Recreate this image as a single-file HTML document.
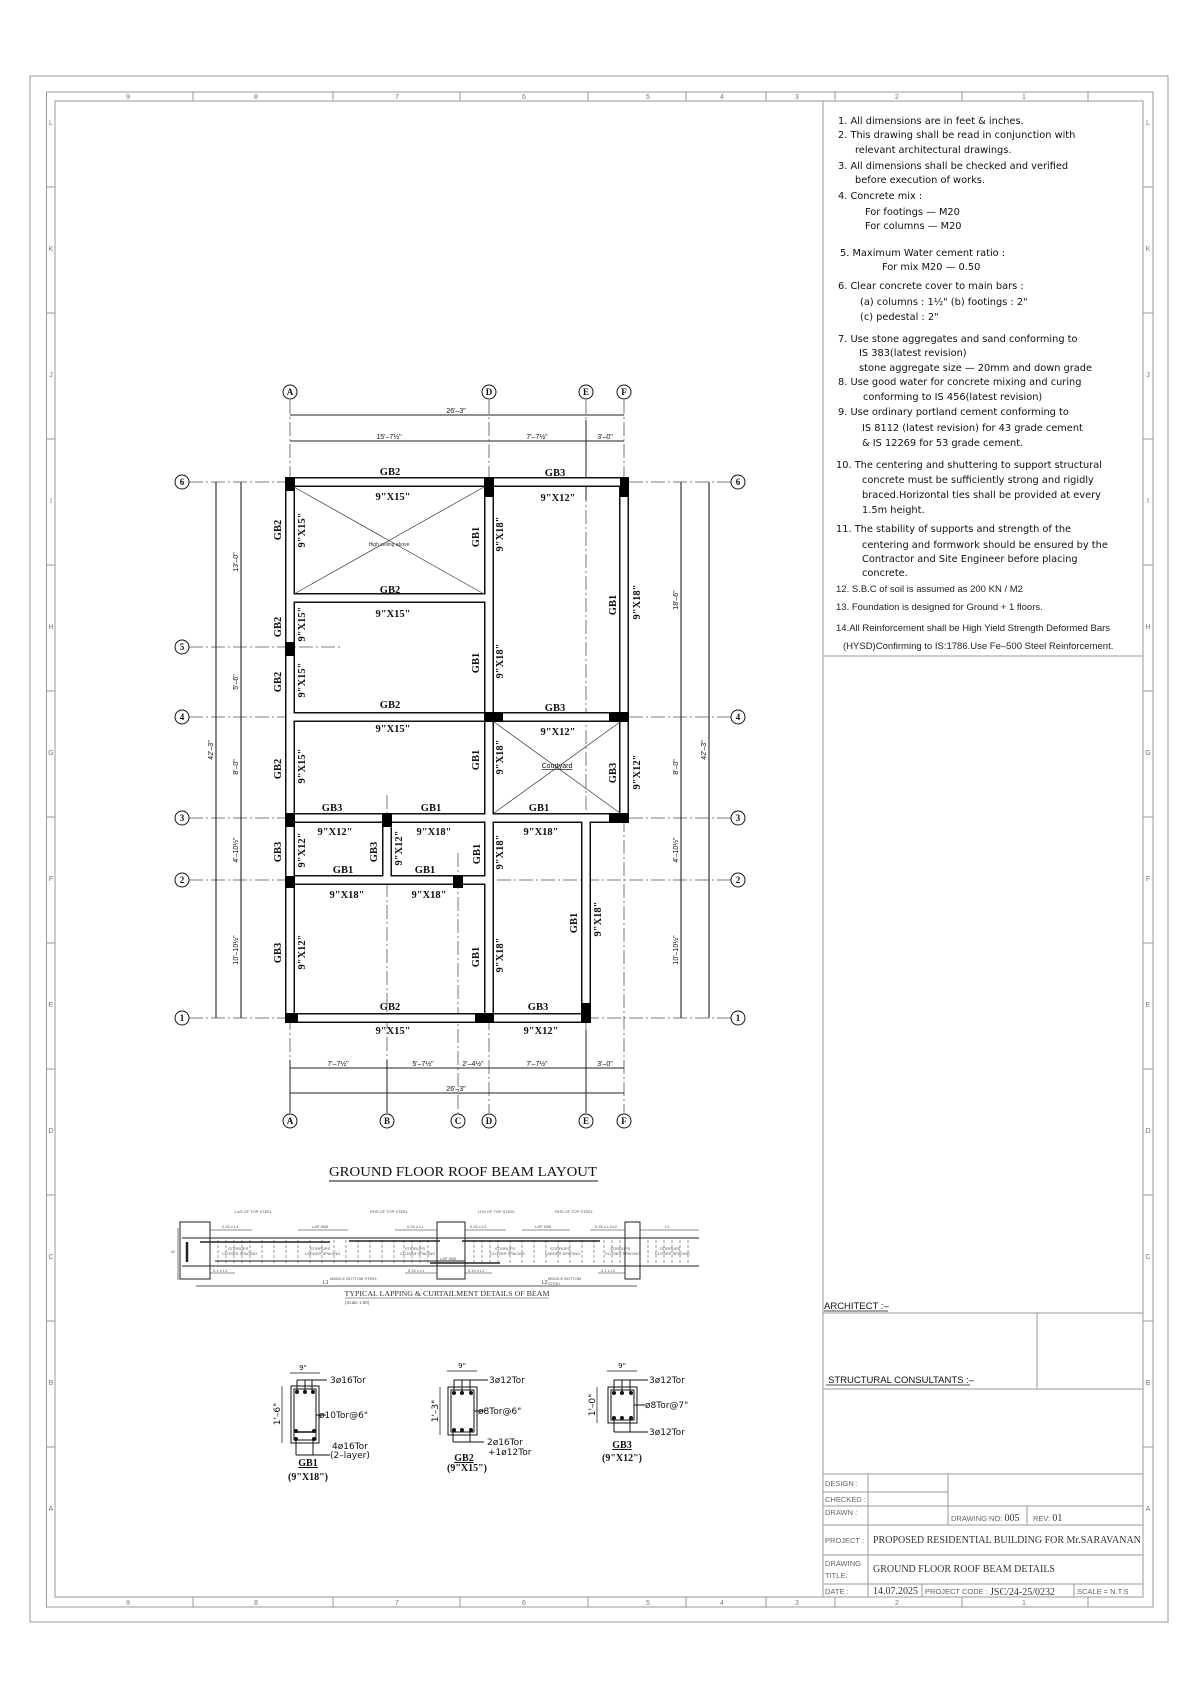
<!DOCTYPE html>
<html><head><meta charset="utf-8"><style>
html,body{margin:0;padding:0;background:#fff;}
svg{display:block;}
.g{stroke:#555;stroke-width:0.8;stroke-dasharray:14,3,2,3;fill:none}
.d{stroke:#222;stroke-width:1.1;fill:none}
.lb{font-family:"Liberation Serif",serif;font-weight:bold;font-size:10.5px;fill:#111;text-anchor:middle}
.dm{font-family:"Liberation Sans",sans-serif;font-size:7px;fill:#111;text-anchor:middle}
.nt{font-family:"DejaVu Sans",sans-serif;font-size:9.8px;fill:#111}
.nt2{font-family:"Liberation Sans",sans-serif;font-size:9.5px;fill:#222}
.bb{font-family:"Liberation Serif",serif;font-weight:bold;font-size:9px;fill:#111;text-anchor:middle}
.fr{stroke:#999;stroke-width:1;fill:none}
.zn{font-family:"Liberation Sans",sans-serif;font-size:7px;fill:#777;text-anchor:middle}
.tb{font-family:"Liberation Sans",sans-serif;font-size:7.5px;fill:#666}
.tt{font-family:"Liberation Serif",serif;font-size:10px;fill:#333}
.sc{font-family:"DejaVu Sans",sans-serif;font-size:9px;fill:#111}
.tiny{font-family:"Liberation Sans",sans-serif;font-size:4px;fill:#555}
</style></head><body>
<svg width="1200" height="1697" viewBox="0 0 1200 1697" xmlns="http://www.w3.org/2000/svg">
<rect width="1200" height="1697" fill="#fff"/>
<rect x="30" y="76" width="1138" height="1546" class="fr"/>
<rect x="46.5" y="92" width="1106.5" height="1515" class="fr"/>
<rect x="55" y="101" width="1088" height="1496" class="fr" stroke="#888"/>
<g class="fr">
<line x1="193" y1="92" x2="193" y2="101"/><line x1="333" y1="92" x2="333" y2="101"/><line x1="460" y1="92" x2="460" y2="101"/><line x1="588" y1="92" x2="588" y2="101"/><line x1="686" y1="92" x2="686" y2="101"/><line x1="766" y1="92" x2="766" y2="101"/><line x1="835" y1="92" x2="835" y2="101"/><line x1="962" y1="92" x2="962" y2="101"/><line x1="1088" y1="92" x2="1088" y2="101"/>
<line x1="193" y1="1597" x2="193" y2="1607"/><line x1="333" y1="1597" x2="333" y2="1607"/><line x1="460" y1="1597" x2="460" y2="1607"/><line x1="588" y1="1597" x2="588" y2="1607"/><line x1="686" y1="1597" x2="686" y2="1607"/><line x1="766" y1="1597" x2="766" y2="1607"/><line x1="835" y1="1597" x2="835" y2="1607"/><line x1="962" y1="1597" x2="962" y2="1607"/><line x1="1088" y1="1597" x2="1088" y2="1607"/>
<line x1="46" y1="187" x2="55" y2="187"/><line x1="46" y1="313" x2="55" y2="313"/><line x1="46" y1="439" x2="55" y2="439"/><line x1="46" y1="565" x2="55" y2="565"/><line x1="46" y1="691" x2="55" y2="691"/><line x1="46" y1="817" x2="55" y2="817"/><line x1="46" y1="943" x2="55" y2="943"/><line x1="46" y1="1069" x2="55" y2="1069"/><line x1="46" y1="1195" x2="55" y2="1195"/><line x1="46" y1="1321" x2="55" y2="1321"/><line x1="46" y1="1447" x2="55" y2="1447"/>
<line x1="1143" y1="187" x2="1153" y2="187"/><line x1="1143" y1="313" x2="1153" y2="313"/><line x1="1143" y1="439" x2="1153" y2="439"/><line x1="1143" y1="565" x2="1153" y2="565"/><line x1="1143" y1="691" x2="1153" y2="691"/><line x1="1143" y1="817" x2="1153" y2="817"/><line x1="1143" y1="943" x2="1153" y2="943"/><line x1="1143" y1="1069" x2="1153" y2="1069"/><line x1="1143" y1="1195" x2="1153" y2="1195"/><line x1="1143" y1="1321" x2="1153" y2="1321"/><line x1="1143" y1="1447" x2="1153" y2="1447"/>
</g>
<g class="zn">
<text x="128" y="99">9</text><text x="256" y="99">8</text><text x="397" y="99">7</text><text x="524" y="99">6</text><text x="648" y="99">5</text><text x="722" y="99">4</text><text x="797" y="99">3</text><text x="897" y="99">2</text><text x="1024" y="99">1</text>
<text x="128" y="1605">9</text><text x="256" y="1605">8</text><text x="397" y="1605">7</text><text x="524" y="1605">6</text><text x="648" y="1605">5</text><text x="722" y="1605">4</text><text x="797" y="1605">3</text><text x="897" y="1605">2</text><text x="1024" y="1605">1</text>
<text x="51" y="125">L</text><text x="51" y="251">K</text><text x="51" y="377">J</text><text x="51" y="503">I</text><text x="51" y="629">H</text><text x="51" y="755">G</text><text x="51" y="881">F</text><text x="51" y="1007">E</text><text x="51" y="1133">D</text><text x="51" y="1259">C</text><text x="51" y="1385">B</text><text x="51" y="1511">A</text>
<text x="1148" y="125">L</text><text x="1148" y="251">K</text><text x="1148" y="377">J</text><text x="1148" y="503">I</text><text x="1148" y="629">H</text><text x="1148" y="755">G</text><text x="1148" y="881">F</text><text x="1148" y="1007">E</text><text x="1148" y="1133">D</text><text x="1148" y="1259">C</text><text x="1148" y="1385">B</text><text x="1148" y="1511">A</text>
</g>

<g stroke="#999" stroke-width="1" fill="none">
<line x1="823" y1="101" x2="823" y2="1597"/>
<line x1="823" y1="656" x2="1143" y2="656"/>
<line x1="823" y1="1313" x2="1143" y2="1313"/>
<line x1="1037" y1="1313" x2="1037" y2="1389"/>
<line x1="823" y1="1389" x2="1143" y2="1389"/>
<line x1="823" y1="1474" x2="1143" y2="1474"/>
<line x1="823" y1="1492" x2="948" y2="1492"/>
<line x1="823" y1="1506" x2="1143" y2="1506"/>
<line x1="823" y1="1525" x2="1143" y2="1525"/>
<line x1="823" y1="1555" x2="1143" y2="1555"/>
<line x1="823" y1="1584" x2="1143" y2="1584"/>
<line x1="868" y1="1474" x2="868" y2="1597"/>
<line x1="948" y1="1474" x2="948" y2="1525"/>
<line x1="1027" y1="1506" x2="1027" y2="1525"/>
<line x1="922" y1="1584" x2="922" y2="1597"/>
<line x1="1074" y1="1584" x2="1074" y2="1597"/>
</g>
<text x="824" y="1309" font-family="Liberation Sans,sans-serif" font-size="9.5" fill="#111">ARCHITECT :–</text>
<line x1="824" y1="1311" x2="888" y2="1311" stroke="#111" stroke-width="0.8"/>
<text x="828" y="1383" font-family="Liberation Sans,sans-serif" font-size="9.5" fill="#111">STRUCTURAL  CONSULTANTS :–</text>
<line x1="826" y1="1385" x2="970" y2="1385" stroke="#111" stroke-width="0.8"/>
<text x="825" y="1486" class="tb">DESIGN :</text>
<text x="825" y="1502" class="tb">CHECKED :</text>
<text x="825" y="1515" class="tb">DRAWN :</text>
<text x="951" y="1521" class="tb">DRAWING NO: <tspan class="tt" font-size="9">005</tspan></text>
<text x="1033" y="1521" class="tb">REV:  <tspan class="tt" font-size="9">01</tspan></text>
<text x="825" y="1543" class="tb">PROJECT :</text>
<text x="873" y="1543" class="tt" font-size="9.2">PROPOSED RESIDENTIAL BUILDING FOR Mr.SARAVANAN</text>
<text x="825" y="1566" class="tb">DRAWING</text>
<text x="825" y="1578" class="tb">TITLE:</text>
<text x="873" y="1572" class="tt">GROUND FLOOR ROOF BEAM DETAILS</text>
<text x="825" y="1594" class="tb">DATE :</text>
<text x="873" y="1594" class="tt" font-size="8.5">14.07.2025</text>
<text x="925" y="1594" class="tb" font-size="7">PROJECT CODE :</text>
<text x="990" y="1595" class="tt" font-size="8">JSC/24-25/0232</text>
<text x="1077" y="1594" class="tb">SCALE = N.T.S</text>

<g class="nt">
<text x="838" y="124">1. All dimensions are in feet &amp; inches.</text>
<text x="838" y="138">2. This drawing shall be read in conjunction with</text>
<text x="855" y="153">relevant architectural drawings.</text>
<text x="838" y="169">3. All dimensions shall be  checked and verified</text>
<text x="855" y="183">before execution of works.</text>
<text x="838" y="199">4. Concrete mix :</text>
<text x="865" y="215">For footings — M20</text>
<text x="865" y="229">For columns — M20</text>
<text x="840" y="256">5. Maximum Water cement ratio :</text>
<text x="882" y="270">For mix M20   —    0.50</text>
<text x="838" y="289">6. Clear concrete cover to main bars :</text>
<text x="860" y="305">(a) columns : 1½" (b) footings : 2"</text>
<text x="860" y="320">(c) pedestal :  2"</text>
<text x="838" y="342">7. Use stone aggregates and sand conforming to</text>
<text x="859" y="356">IS 383(latest revision)</text>
<text x="859" y="371">stone aggregate size — 20mm and down grade</text>
<text x="838" y="385">8. Use good water for concrete mixing and curing</text>
<text x="863" y="400">conforming to IS 456(latest revision)</text>
<text x="838" y="415">9. Use ordinary portland cement conforming to</text>
<text x="862" y="431">IS 8112 (latest revision) for 43 grade cement</text>
<text x="862" y="446">&amp; IS 12269 for 53 grade cement.</text>
<text x="836" y="468">10. The centering and shuttering to support structural</text>
<text x="862" y="483">concrete must be sufficiently strong and rigidly</text>
<text x="862" y="498">braced.Horizontal ties shall be provided at every</text>
<text x="862" y="513">1.5m height.</text>
<text x="836" y="532">11. The stability of supports and strength of the</text>
<text x="862" y="548">centering and formwork should be ensured by the</text>
<text x="862" y="562">Contractor and Site  Engineer before placing</text>
<text x="862" y="576">concrete.</text>
</g>
<g class="nt2">
<text x="836" y="592">12. S.B.C of soil is assumed as 200 KN / M2</text>
<text x="836" y="610">13. Foundation is designed for Ground + 1 floors.</text>
<text x="836" y="631">14.All Reinforcement shall be High Yield Strength Deformed Bars</text>
<text x="843" y="649">(HYSD)Confirming to IS:1786.Use Fe–500 Steel Reinforcement.</text>
</g>

<g class="g">
<line x1="189" y1="482" x2="731" y2="482"/>
<line x1="189" y1="647" x2="340" y2="647"/>
<line x1="189" y1="717" x2="731" y2="717"/>
<line x1="189" y1="818" x2="731" y2="818"/>
<line x1="189" y1="880" x2="731" y2="880"/>
<line x1="189" y1="1018" x2="731" y2="1018"/>
<line x1="290" y1="400" x2="290" y2="1113"/>
<line x1="489" y1="400" x2="489" y2="1113"/>
<line x1="586" y1="400" x2="586" y2="1113"/>
<line x1="624" y1="400" x2="624" y2="1113"/>
<line x1="387" y1="795" x2="387" y2="1113"/>
<line x1="458" y1="853" x2="458" y2="1113"/>
</g>
<g stroke="#222" stroke-width="1">
<line x1="586" y1="420" x2="586" y2="500"/>
<line x1="586" y1="1030" x2="586" y2="1113"/>
<line x1="387" y1="1060" x2="387" y2="1113"/>
<line x1="290" y1="1060" x2="290" y2="1113"/>
</g>
<g class="d">
<line x1="290" y1="415" x2="624" y2="415"/>
<line x1="290" y1="441" x2="624" y2="441"/>
<line x1="290" y1="1068" x2="624" y2="1068"/>
<line x1="290" y1="1093" x2="624" y2="1093"/>
<line x1="216" y1="482" x2="216" y2="1018"/>
<line x1="241" y1="482" x2="241" y2="1018"/>
<line x1="681" y1="482" x2="681" y2="1018"/>
<line x1="709" y1="482" x2="709" y2="1018"/>
</g>
<g class="dm">
<text x="456" y="413">26'–3"</text>
<text x="389" y="439">15'–7½"</text>
<text x="537" y="439">7'–7½"</text>
<text x="605" y="439">3'–0"</text>
<text x="338" y="1066">7'–7½"</text>
<text x="423" y="1066">5'–7½"</text>
<text x="473" y="1066">2'–4½"</text>
<text x="537" y="1066">7'–7½"</text>
<text x="605" y="1066">3'–0"</text>
<text x="456" y="1091">26'–3"</text>
<text transform="translate(238,562) rotate(-90)">13'–0"</text>
<text transform="translate(238,682) rotate(-90)">5'–6"</text>
<text transform="translate(238,767) rotate(-90)">8'–0"</text>
<text transform="translate(238,850) rotate(-90)">4'–10½"</text>
<text transform="translate(238,950) rotate(-90)">10'–10½"</text>
<text transform="translate(213,750) rotate(-90)">42'–3"</text>
<text transform="translate(678,600) rotate(-90)">18'–6"</text>
<text transform="translate(678,767) rotate(-90)">8'–0"</text>
<text transform="translate(678,850) rotate(-90)">4'–10½"</text>
<text transform="translate(678,950) rotate(-90)">10'–10½"</text>
<text transform="translate(706,750) rotate(-90)">42'–3"</text>
</g>

<g stroke="#111" stroke-width="10" stroke-linecap="square" fill="none">
<line x1="290" y1="482" x2="624" y2="482"/>
<line x1="290" y1="598" x2="489" y2="598"/>
<line x1="290" y1="717" x2="624" y2="717"/>
<line x1="290" y1="818" x2="624" y2="818"/>
<line x1="290" y1="880" x2="489" y2="880"/>
<line x1="290" y1="1018" x2="586" y2="1018"/>
<line x1="290" y1="482" x2="290" y2="1018"/>
<line x1="387" y1="818" x2="387" y2="880"/>
<line x1="489" y1="482" x2="489" y2="1018"/>
<line x1="586" y1="818" x2="586" y2="1018"/>
<line x1="624" y1="482" x2="624" y2="818"/>
</g>
<g stroke="#fff" stroke-width="7" stroke-linecap="square" fill="none">
<line x1="290" y1="482" x2="624" y2="482"/>
<line x1="290" y1="598" x2="489" y2="598"/>
<line x1="290" y1="717" x2="624" y2="717"/>
<line x1="290" y1="818" x2="624" y2="818"/>
<line x1="290" y1="880" x2="489" y2="880"/>
<line x1="290" y1="1018" x2="586" y2="1018"/>
<line x1="290" y1="482" x2="290" y2="1018"/>
<line x1="387" y1="818" x2="387" y2="880"/>
<line x1="489" y1="482" x2="489" y2="1018"/>
<line x1="586" y1="818" x2="586" y2="1018"/>
<line x1="624" y1="482" x2="624" y2="818"/>
</g>
<g fill="#000">
<rect x="285" y="478" width="10" height="13"/>
<rect x="484" y="478" width="10" height="19"/>
<rect x="620" y="478" width="9" height="19"/>
<rect x="285" y="642" width="10" height="14"/>
<rect x="484" y="712" width="19" height="10"/>
<rect x="609" y="712" width="20" height="10"/>
<rect x="285" y="813" width="10" height="14"/>
<rect x="382" y="813" width="10" height="14"/>
<rect x="609" y="813" width="20" height="10"/>
<rect x="285" y="876" width="10" height="12"/>
<rect x="453" y="876" width="10" height="12"/>
<rect x="285" y="1013" width="13" height="10"/>
<rect x="475" y="1013" width="19" height="10"/>
<rect x="581" y="1003" width="10" height="20"/>
</g>
<g stroke="#333" stroke-width="0.7">
<line x1="294" y1="487" x2="484" y2="594"/>
<line x1="484" y1="487" x2="294" y2="594"/>
<line x1="494" y1="722" x2="620" y2="813"/>
<line x1="620" y1="722" x2="494" y2="813"/>
</g>
<text x="389" y="546" font-family="Liberation Sans,sans-serif" font-size="5" fill="#333" text-anchor="middle">High ceiling above</text>
<text x="557" y="768" font-family="Liberation Sans,sans-serif" font-size="7" fill="#111" text-anchor="middle" text-decoration="underline">Courtyard</text>

<g class="lb">
<text x="390" y="475">GB2</text><text x="393" y="500">9"X15"</text>
<text x="555" y="476">GB3</text><text x="558" y="501">9"X12"</text>
<text transform="translate(281,530) rotate(-90)">GB2</text><text transform="translate(305,530) rotate(-90)">9"X15"</text>
<text transform="translate(479,537) rotate(-90)">GB1</text><text transform="translate(503,534) rotate(-90)">9"X18"</text>
<text x="390" y="593">GB2</text><text x="393" y="617">9"X15"</text>
<text transform="translate(281,627) rotate(-90)">GB2</text><text transform="translate(305,624) rotate(-90)">9"X15"</text>
<text transform="translate(616,605) rotate(-90)">GB1</text><text transform="translate(640,602) rotate(-90)">9"X18"</text>
<text transform="translate(479,663) rotate(-90)">GB1</text><text transform="translate(503,661) rotate(-90)">9"X18"</text>
<text transform="translate(281,682) rotate(-90)">GB2</text><text transform="translate(305,680) rotate(-90)">9"X15"</text>
<text x="390" y="708">GB2</text><text x="555" y="711">GB3</text>
<text x="393" y="732">9"X15"</text><text x="558" y="735">9"X12"</text>
<text transform="translate(281,769) rotate(-90)">GB2</text><text transform="translate(305,766) rotate(-90)">9"X15"</text>
<text transform="translate(479,760) rotate(-90)">GB1</text><text transform="translate(503,757) rotate(-90)">9"X18"</text>
<text transform="translate(616,773) rotate(-90)">GB3</text><text transform="translate(640,772) rotate(-90)">9"X12"</text>
<text x="332" y="811">GB3</text><text x="431" y="811">GB1</text><text x="539" y="811">GB1</text>
<text x="335" y="835">9"X12"</text><text x="434" y="835">9"X18"</text><text x="541" y="835">9"X18"</text>
<text transform="translate(281,852) rotate(-90)">GB3</text><text transform="translate(305,850) rotate(-90)">9"X12"</text>
<text transform="translate(377,852) rotate(-90)">GB3</text><text transform="translate(402,848) rotate(-90)">9"X12"</text>
<text transform="translate(480,854) rotate(-90)">GB1</text><text transform="translate(503,852) rotate(-90)">9"X18"</text>
<text x="343" y="873">GB1</text><text x="425" y="873">GB1</text>
<text x="347" y="898">9"X18"</text><text x="429" y="898">9"X18"</text>
<text transform="translate(577,923) rotate(-90)">GB1</text><text transform="translate(601,919) rotate(-90)">9"X18"</text>
<text transform="translate(281,953) rotate(-90)">GB3</text><text transform="translate(305,952) rotate(-90)">9"X12"</text>
<text transform="translate(479,957) rotate(-90)">GB1</text><text transform="translate(503,955) rotate(-90)">9"X18"</text>
<text x="390" y="1010">GB2</text><text x="538" y="1010">GB3</text>
<text x="393" y="1034">9"X15"</text><text x="541" y="1034">9"X12"</text>
</g>

<g fill="#fff" stroke="#111" stroke-width="1">
<circle cx="290" cy="392" r="7"/><circle cx="489" cy="392" r="7"/><circle cx="586" cy="392" r="7"/><circle cx="624" cy="392" r="7"/>
<circle cx="290" cy="1121" r="7"/><circle cx="387" cy="1121" r="7"/><circle cx="458" cy="1121" r="7"/><circle cx="489" cy="1121" r="7"/><circle cx="586" cy="1121" r="7"/><circle cx="624" cy="1121" r="7"/>
<circle cx="182" cy="482" r="7"/><circle cx="182" cy="647" r="7"/><circle cx="182" cy="717" r="7"/><circle cx="182" cy="818" r="7"/><circle cx="182" cy="880" r="7"/><circle cx="182" cy="1018" r="7"/>
<circle cx="738" cy="482" r="7"/><circle cx="738" cy="717" r="7"/><circle cx="738" cy="818" r="7"/><circle cx="738" cy="880" r="7"/><circle cx="738" cy="1018" r="7"/>
</g>
<g class="bb">
<text x="290" y="395">A</text><text x="489" y="395">D</text><text x="586" y="395">E</text><text x="624" y="395">F</text>
<text x="290" y="1124">A</text><text x="387" y="1124">B</text><text x="458" y="1124">C</text><text x="489" y="1124">D</text><text x="586" y="1124">E</text><text x="624" y="1124">F</text>
<text x="182" y="485">6</text><text x="182" y="650">5</text><text x="182" y="720">4</text><text x="182" y="821">3</text><text x="182" y="883">2</text><text x="182" y="1021">1</text>
<text x="738" y="485">6</text><text x="738" y="720">4</text><text x="738" y="821">3</text><text x="738" y="883">2</text><text x="738" y="1021">1</text>
</g>

<text x="463" y="1176" font-family="Liberation Serif,serif" font-size="14" fill="#111" text-anchor="middle" textLength="268" lengthAdjust="spacingAndGlyphs">GROUND FLOOR ROOF BEAM LAYOUT</text>
<line x1="329" y1="1181" x2="598" y2="1181" stroke="#111" stroke-width="1"/>

<g stroke="#333" stroke-width="0.5" stroke-dasharray="3,2">
<line x1="218" y1="1240" x2="218" y2="1264"/><line x1="226" y1="1240" x2="226" y2="1264"/><line x1="234" y1="1240" x2="234" y2="1264"/><line x1="242" y1="1240" x2="242" y2="1264"/><line x1="250" y1="1240" x2="250" y2="1264"/><line x1="262" y1="1240" x2="262" y2="1264"/><line x1="274" y1="1240" x2="274" y2="1264"/><line x1="286" y1="1240" x2="286" y2="1264"/><line x1="298" y1="1240" x2="298" y2="1264"/><line x1="310" y1="1240" x2="310" y2="1264"/><line x1="322" y1="1240" x2="322" y2="1264"/><line x1="334" y1="1240" x2="334" y2="1264"/><line x1="346" y1="1240" x2="346" y2="1264"/><line x1="358" y1="1240" x2="358" y2="1264"/><line x1="370" y1="1240" x2="370" y2="1264"/><line x1="382" y1="1240" x2="382" y2="1264"/><line x1="394" y1="1240" x2="394" y2="1264"/><line x1="404" y1="1240" x2="404" y2="1264"/><line x1="412" y1="1240" x2="412" y2="1264"/><line x1="420" y1="1240" x2="420" y2="1264"/><line x1="428" y1="1240" x2="428" y2="1264"/>
<line x1="474" y1="1240" x2="474" y2="1264"/><line x1="482" y1="1240" x2="482" y2="1264"/><line x1="490" y1="1240" x2="490" y2="1264"/><line x1="498" y1="1240" x2="498" y2="1264"/><line x1="510" y1="1240" x2="510" y2="1264"/><line x1="522" y1="1240" x2="522" y2="1264"/><line x1="534" y1="1240" x2="534" y2="1264"/><line x1="546" y1="1240" x2="546" y2="1264"/><line x1="558" y1="1240" x2="558" y2="1264"/><line x1="570" y1="1240" x2="570" y2="1264"/><line x1="582" y1="1240" x2="582" y2="1264"/><line x1="594" y1="1240" x2="594" y2="1264"/><line x1="604" y1="1240" x2="604" y2="1264"/><line x1="612" y1="1240" x2="612" y2="1264"/><line x1="620" y1="1240" x2="620" y2="1264"/>
<line x1="648" y1="1240" x2="648" y2="1264"/><line x1="656" y1="1240" x2="656" y2="1264"/><line x1="664" y1="1240" x2="664" y2="1264"/><line x1="672" y1="1240" x2="672" y2="1264"/><line x1="680" y1="1240" x2="680" y2="1264"/><line x1="688" y1="1240" x2="688" y2="1264"/>
</g>
<g stroke="#222" stroke-width="1" fill="none">
<line x1="182" y1="1238" x2="699" y2="1238"/>
<line x1="182" y1="1266" x2="699" y2="1266"/>
<rect x="180" y="1222" width="30" height="57" fill="none"/>
<rect x="437" y="1222" width="28" height="57" fill="none"/>
<rect x="625" y="1222" width="15" height="57" fill="none"/>
<line x1="187" y1="1242" x2="187" y2="1262" stroke-width="2.5"/>
<line x1="200" y1="1242" x2="330" y2="1242" stroke-width="1.5"/>
<line x1="349" y1="1241" x2="440" y2="1241" stroke-width="1.5"/>
<line x1="215" y1="1261" x2="465" y2="1261" stroke-width="1"/>
<line x1="430" y1="1263" x2="500" y2="1263" stroke-width="1.5"/>
<line x1="462" y1="1241" x2="600" y2="1241" stroke-width="1.5"/>
<line x1="196" y1="1286" x2="637" y2="1286" stroke-width="0.7"/>
<line x1="178" y1="1228" x2="178" y2="1280" stroke-width="0.6"/>
<line x1="210" y1="1230" x2="252" y2="1230" stroke-width="0.6"/>
<line x1="298" y1="1230" x2="348" y2="1230" stroke-width="0.6"/>
<line x1="395" y1="1230" x2="437" y2="1230" stroke-width="0.6"/>
<line x1="465" y1="1230" x2="506" y2="1230" stroke-width="0.6"/>
<line x1="522" y1="1230" x2="570" y2="1230" stroke-width="0.6"/>
<line x1="590" y1="1230" x2="625" y2="1230" stroke-width="0.6"/>
<line x1="640" y1="1230" x2="699" y2="1230" stroke-width="0.6"/>
<line x1="210" y1="1273" x2="235" y2="1273" stroke-width="0.6"/>
<line x1="405" y1="1273" x2="437" y2="1273" stroke-width="0.6"/>
<line x1="465" y1="1273" x2="492" y2="1273" stroke-width="0.6"/>
<line x1="598" y1="1273" x2="625" y2="1273" stroke-width="0.6"/>
</g>
<g class="tiny">
<text x="222" y="1228">0.25 x L1</text><text x="312" y="1228">LAP 50Ø</text><text x="407" y="1228">0.25 x L1</text><text x="470" y="1228">0.25 x L2</text><text x="535" y="1228">LAP 50Ø</text><text x="595" y="1228">0.25 x L1/L2</text><text x="665" y="1228">L2</text>
<text x="235" y="1213">LAS OF TOP STEEL</text><text x="370" y="1213">RHS OF TOP STEEL</text><text x="478" y="1213">LHS OF TOP STEEL</text><text x="555" y="1213">RHS OF TOP STEEL</text>
<text x="228" y="1250">STIRRUPS</text><text x="222" y="1255">CLOSER SPACING</text>
<text x="310" y="1250">STIRRUPS</text><text x="305" y="1255">LARGER SPACING</text>
<text x="405" y="1250">STIRRUPS</text><text x="400" y="1255">CLOSER SPACING</text>
<text x="495" y="1250">STIRRUPS</text><text x="490" y="1255">CLOSER SPACING</text>
<text x="550" y="1250">STIRRUPS</text><text x="545" y="1255">LARGER SPACING</text>
<text x="610" y="1250">STIRRUPS</text><text x="605" y="1255">CLOSER SPACING</text>
<text x="660" y="1250">STIRRUPS</text><text x="655" y="1255">CLOSER SPACING</text>
<text x="440" y="1260">LAP 50Ø</text>
<text x="213" y="1272">0.1 x L1</text><text x="408" y="1272">0.15 x L1</text><text x="468" y="1272">0.15 x L2</text><text x="601" y="1272">0.1 x L2</text>
<text x="330" y="1280">MIDDLE BOTTOM STEEL</text><text x="548" y="1280">MIDDLE BOTTOM</text><text x="548" y="1285">STEEL</text>
<text x="171" y="1253">W</text>
</g>
<text x="323" y="1284" font-family="Liberation Sans,sans-serif" font-size="5" fill="#333">L1</text>
<text x="542" y="1284" font-family="Liberation Sans,sans-serif" font-size="5" fill="#333">L2</text>
<text x="447" y="1296" font-family="Liberation Serif,serif" font-size="7" fill="#333" text-anchor="middle" textLength="205" lengthAdjust="spacingAndGlyphs">TYPICAL LAPPING &amp; CURTAILMENT DETAILS OF BEAM</text>
<line x1="345" y1="1298" x2="549" y2="1298" stroke="#333" stroke-width="0.6"/>
<text x="345" y="1304" font-family="Liberation Sans,sans-serif" font-size="4.5" fill="#555">(Scale 1:50)</text>

<g stroke="#111" stroke-width="1" fill="none">
<rect x="291" y="1386" width="28" height="57"/>
<rect x="294" y="1389" width="22" height="51"/>
<line x1="290" y1="1373" x2="320" y2="1373" stroke-width="0.7"/>
<line x1="282" y1="1386" x2="282" y2="1443" stroke-width="0.7"/>
<line x1="297" y1="1380" x2="297" y2="1391"/><line x1="305" y1="1380" x2="305" y2="1391"/><line x1="312" y1="1380" x2="312" y2="1391"/><line x1="297" y1="1380" x2="327" y2="1380"/>
<line x1="316" y1="1415" x2="326" y2="1415"/>
<line x1="295" y1="1432" x2="315" y2="1432" stroke-width="1.5"/>
<line x1="296" y1="1440" x2="296" y2="1455"/><line x1="313" y1="1440" x2="313" y2="1455"/><line x1="296" y1="1455" x2="330" y2="1455"/>
<rect x="448" y="1387" width="29" height="48"/>
<rect x="451" y="1390" width="23" height="42"/>
<line x1="447" y1="1371" x2="477" y2="1371" stroke-width="0.7"/>
<line x1="440" y1="1387" x2="440" y2="1435" stroke-width="0.7"/>
<line x1="454" y1="1380" x2="454" y2="1392"/><line x1="462" y1="1380" x2="462" y2="1392"/><line x1="470" y1="1380" x2="470" y2="1392"/><line x1="454" y1="1380" x2="488" y2="1380"/>
<line x1="474" y1="1411" x2="485" y2="1411"/>
<line x1="453" y1="1430" x2="453" y2="1442"/><line x1="470" y1="1430" x2="470" y2="1442"/><line x1="453" y1="1442" x2="484" y2="1442"/>
<rect x="608" y="1387" width="29" height="36"/>
<rect x="611" y="1390" width="23" height="30"/>
<line x1="607" y1="1371" x2="637" y2="1371" stroke-width="0.7"/>
<line x1="597" y1="1387" x2="597" y2="1423" stroke-width="0.7"/>
<line x1="614" y1="1380" x2="614" y2="1392"/><line x1="622" y1="1380" x2="622" y2="1392"/><line x1="630" y1="1380" x2="630" y2="1392"/><line x1="614" y1="1380" x2="648" y2="1380"/>
<line x1="634" y1="1405" x2="645" y2="1405"/>
<line x1="614" y1="1418" x2="614" y2="1432"/><line x1="630" y1="1418" x2="630" y2="1432"/><line x1="614" y1="1432" x2="648" y2="1432"/>
</g>
<g fill="#111">
<circle cx="297" cy="1392" r="2"/><circle cx="305" cy="1392" r="2"/><circle cx="313" cy="1392" r="2"/>
<circle cx="296" cy="1431" r="2"/><circle cx="314" cy="1431" r="2"/><circle cx="296" cy="1439" r="2"/><circle cx="314" cy="1439" r="2"/>
<circle cx="454" cy="1393" r="2"/><circle cx="462" cy="1393" r="2"/><circle cx="471" cy="1393" r="2"/>
<circle cx="454" cy="1430" r="2"/><circle cx="462" cy="1430" r="2"/><circle cx="471" cy="1430" r="2"/>
<circle cx="614" cy="1393" r="2"/><circle cx="622" cy="1393" r="2"/><circle cx="631" cy="1393" r="2"/>
<circle cx="614" cy="1418" r="2"/><circle cx="622" cy="1418" r="2"/><circle cx="631" cy="1418" r="2"/>
</g>
<g class="sc" font-size="8">
<text x="303" y="1370" font-size="7" text-anchor="middle">9"</text>
<text x="330" y="1383">3ø16Tor</text>
<text x="319" y="1418">ø10Tor@6"</text>
<text x="332" y="1449">4ø16Tor</text>
<text x="330" y="1458">(2–layer)</text>
<text transform="translate(280,1414) rotate(-90)" text-anchor="middle">1'–6"</text>
<text x="462" y="1368" font-size="7" text-anchor="middle">9"</text>
<text x="489" y="1383">3ø12Tor</text>
<text x="478" y="1414">ø8Tor@6"</text>
<text x="487" y="1445">2ø16Tor</text>
<text x="488" y="1455">+1ø12Tor</text>
<text transform="translate(438,1411) rotate(-90)" text-anchor="middle">1'–3"</text>
<text x="622" y="1368" font-size="7" text-anchor="middle">9"</text>
<text x="649" y="1383">3ø12Tor</text>
<text x="645" y="1408">ø8Tor@7"</text>
<text x="649" y="1435">3ø12Tor</text>
<text transform="translate(595,1405) rotate(-90)" text-anchor="middle">1'–0"</text>
</g>
<g font-family="Liberation Serif,serif" font-weight="bold" font-size="10" fill="#111" text-anchor="middle">
<text x="308" y="1466" text-decoration="underline">GB1</text>
<text x="308" y="1480">(9"X18")</text>
<text x="464" y="1461" text-decoration="underline">GB2</text>
<text x="467" y="1471">(9"X15")</text>
<text x="622" y="1448" text-decoration="underline">GB3</text>
<text x="622" y="1461">(9"X12")</text>
</g>
</svg>
</body></html>
